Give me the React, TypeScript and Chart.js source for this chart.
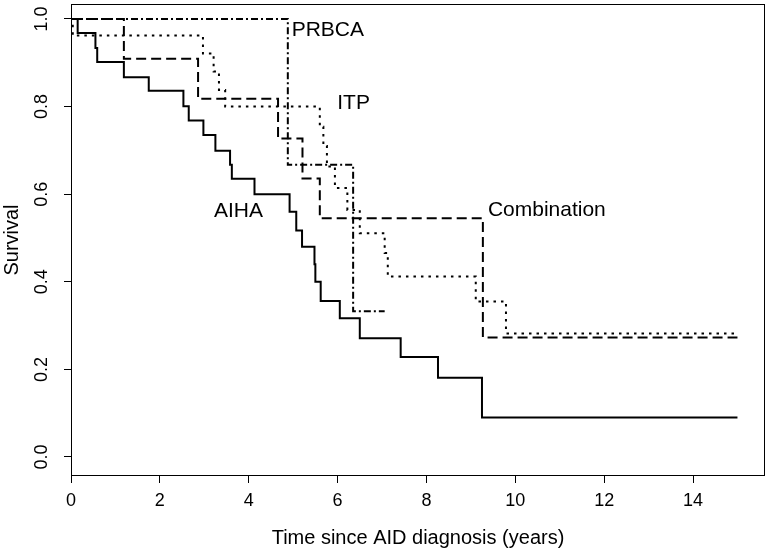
import React, { useEffect, useRef } from 'react';
import { Chart, registerables } from 'chart.js';

Chart.register(...registerables);

// ---- data ----
const aihaTime = [0, 0.15, 0.55, 0.59, 1.19, 1.75, 2.53, 2.65, 2.98, 3.25, 3.58, 3.62, 4.13, 4.92, 5.07, 5.2, 5.48, 5.5, 5.62, 6.05, 6.5, 7.42, 8.26, 9.25, 15.0];
const aihaSurv = [1.0, 0.968, 0.934, 0.902, 0.867, 0.836, 0.801, 0.768, 0.735, 0.699, 0.667, 0.635, 0.6, 0.56, 0.517, 0.48, 0.44, 0.4, 0.356, 0.317, 0.271, 0.228, 0.181, 0.09, 0.09];

const itpTime = [0, 0.04, 2.97, 3.21, 3.33, 3.47, 5.6, 5.68, 5.76, 5.94, 6.22, 6.5, 7.06, 7.13, 9.11, 9.79, 15.0];
const itpSurv = [1.0, 0.962, 0.921, 0.88, 0.838, 0.8, 0.754, 0.71, 0.663, 0.614, 0.564, 0.511, 0.466, 0.412, 0.355, 0.282, 0.282];

const prbcaTime = [0, 4.88, 6.35, 7.06];
const prbcaSurv = [1.0, 0.667, 0.333, 0.333];

const combTime = [0, 1.19, 2.86, 4.66, 5.21, 5.6, 9.27, 15.0];
const combSurv = [1.0, 0.909, 0.818, 0.727, 0.636, 0.545, 0.273, 0.273];

const xTickValues = [0, 2, 4, 6, 8, 10, 12, 14];
const yTickValues = [0, 0.2, 0.4, 0.6, 0.8, 1.0];
const yTickLabels = ['0.0', '0.2', '0.4', '0.6', '0.8', '1.0'];

const curveLabels = ['PRBCA', 'ITP', 'Combination', 'AIHA'];
const curveLabelX = [5.78, 6.36, 10.71, 3.77];
const curveLabelY = [0.975, 0.808, 0.564, 0.562];

const xTitle = 'Time since AID diagnosis (years)';
const yTitle = 'Survival';

const FONT = "'Liberation Sans', Arial, Helvetica, sans-serif";

const toPoints = (t: number[], s: number[]) => t.map((x, i) => ({ x, y: s[i] }));

const overlayPlugin = {
  id: 'overlay',
  afterDraw(chart: any) {
    const { ctx, chartArea: a, scales } = chart;
    const xs = scales.x;
    const ys = scales.y;
    ctx.save();
    ctx.strokeStyle = '#000';
    ctx.lineWidth = 1;
    ctx.strokeRect(a.left + 0.5, a.top + 0.5, a.right - a.left - 1, a.bottom - a.top - 1);

    // rotated y tick labels (R style)
    ctx.fillStyle = '#000';
    ctx.font = `18px ${FONT}`;
    ctx.textAlign = 'center';
    ctx.textBaseline = 'middle';
    yTickValues.forEach((v, i) => {
      const py = ys.getPixelForValue(v);
      ctx.save();
      ctx.translate(a.left - 29, py);
      ctx.rotate(-Math.PI / 2);
      ctx.fillText(yTickLabels[i], 0, 0);
      ctx.restore();
    });

    // curve labels
    ctx.font = `21px ${FONT}`;
    curveLabels.forEach((lab, i) => {
      ctx.fillText(lab, xs.getPixelForValue(curveLabelX[i]), ys.getPixelForValue(curveLabelY[i]));
    });
    ctx.restore();
  },
};

export default function App() {
  const ref = useRef<HTMLCanvasElement | null>(null);

  useEffect(() => {
    if (!ref.current) return;
    const line = (label: string, t: number[], s: number[], dash: number[], width: number) => ({
      label,
      data: toPoints(t, s),
      borderColor: '#000',
      borderWidth: width,
      borderDash: dash,
      borderCapStyle: 'butt' as const,
      pointRadius: 0,
      stepped: 'before' as const,
      fill: false,
    });
    const chart = new Chart(ref.current, {
      type: 'line',
      data: {
        datasets: [
          line('AIHA', aihaTime, aihaSurv, [], 2),
          line('ITP', itpTime, itpSurv, [2.5, 5], 2),
          line('PRBCA', prbcaTime, prbcaSurv, [7, 3, 2, 3], 2),
          line('Combination', combTime, combSurv, [10, 5], 2),
        ],
      },
      options: {
        responsive: false,
        animation: false,
        devicePixelRatio: 1,
        layout: { padding: { top: 4, right: 8, left: 0, bottom: 0 } },
        plugins: { legend: { display: false }, tooltip: { enabled: false } },
        scales: {
          x: {
            type: 'linear',
            min: 0,
            max: 15.62,
            afterBuildTicks: (s: any) => {
              s.ticks = xTickValues.map((v) => ({ value: v }));
            },
            afterFit: (s: any) => {
              s.height = 74;
            },
            grid: { display: true, drawOnChartArea: false, drawTicks: true, tickLength: 7, color: '#000', lineWidth: 1 },
            border: { display: false },
            ticks: {
              color: '#000',
              font: { family: FONT, size: 18 },
              padding: 7,
              maxRotation: 0,
              autoSkip: false,
              callback: (v: any) => String(v),
            },
            title: {
              display: true,
              text: xTitle,
              color: '#000',
              font: { family: FONT, size: 20 },
              padding: { top: 0, bottom: 0 },
            },
          },
          y: {
            type: 'linear',
            min: -0.0434,
            max: 1.0342,
            afterBuildTicks: (s: any) => {
              s.ticks = yTickValues.map((v) => ({ value: v }));
            },
            afterFit: (s: any) => {
              s.width = 71;
            },
            grid: { display: true, drawOnChartArea: false, drawTicks: true, tickLength: 7, color: '#000', lineWidth: 1 },
            border: { display: false },
            ticks: { display: false },
            title: {
              display: true,
              text: yTitle,
              color: '#000',
              font: { family: FONT, size: 20 },
              padding: { top: 0, bottom: 0 },
            },
          },
        },
      },
      plugins: [overlayPlugin],
    });
    return () => chart.destroy();
  }, []);

  return (
    <div style={{ position: 'absolute', left: 0, top: 0, width: 773, height: 550, background: '#fff' }}>
      <canvas ref={ref} width={773} height={550} />
    </div>
  );
}
